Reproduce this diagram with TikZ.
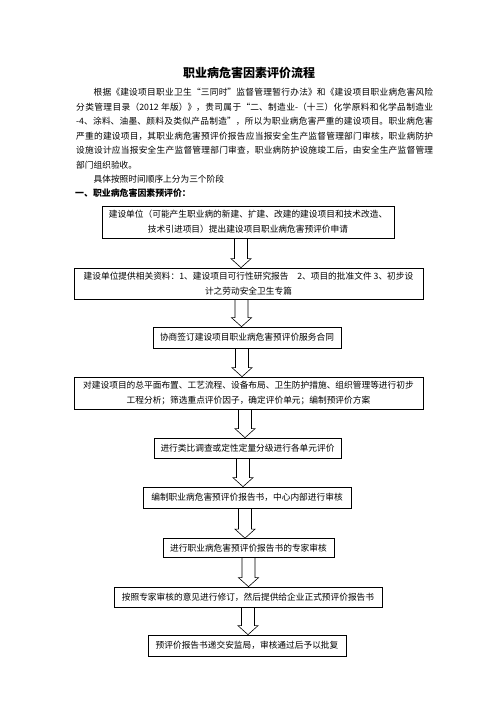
\documentclass[tikz,border=0pt]{standalone}
\usepackage{fontspec}
\setmainfont{Noto Sans CJK SC}
\usetikzlibrary{calc}
\XeTeXlinebreaklocale "zh"
\XeTeXlinebreakskip=0pt plus 1pt

\begin{document}
\begin{tikzpicture}[
            x=1pt, y=-1pt,
            stepbox/.style={
                draw, line width=0.7pt, inner sep=0pt, align=center,
                font=\fontsize{8.7}{15}\selectfont
            },
            hollow arrow/.style={
                line width=0.6pt,
                to path={
                    let \p1=(\tikztostart), \p2=(\tikztotarget) in
                    (\x1-6.5pt, \y1) -- (\x1-6.5pt, \y2+9pt) -- (\x1-10pt, \y2+9pt)
                    -- (\x1, \y2) -- (\x1+10pt, \y2+9pt) -- (\x1+6.5pt, \y2+9pt) -- (\x1+6.5pt, \y1)
                }
            }
        ]
        \useasboundingbox[fill=white] (0, 0) rectangle (496, 702);

        \node (title) at (249, 73) {\fontsize{12}{14}\selectfont\bfseries 职业病危害因素评价流程};
        \node (intro) at (76, 88)[anchor=north west, inner sep=0pt, text width=357pt, align=justify,
            font=\fontsize{8.7}{14.5}\selectfont] {%
            \hspace*{2em}根据《建设项目职业卫生“三同时”监督管理暂行办法》和《建设项目职业病危害风险\linebreak
            分类管理目录（2012 年版）》，贵司属于“二、制造业-（十三）化学原料和化学品制造业\linebreak
            -4、涂料、油墨、颜料及类似产品制造”，所以为职业病危害严重的建设项目。职业病危害\linebreak
            严重的建设项目，其职业病危害预评价报告应当报安全生产监督管理部门审核，职业病防护\linebreak
            设施设计应当报安全生产监督管理部门审查，职业病防护设施竣工后，由安全生产监督管理\linebreak
            部门组织验收。\\
            \hspace*{2em}具体按照时间顺序上分为三个阶段};
        \node (stage) at (75, 193)[anchor=west, inner sep=0pt, font=\fontsize{8.9}{10}\selectfont\bfseries]
            {一、职业病危害因素预评价：};

        \node[stepbox, minimum width=292, minimum height=32] (apply) at (248, 222)
            {建设单位（可能产生职业病的新建、扩建、改建的建设项目和技术改造、\\技术引进项目）提出建设项目职业病危害预评价申请};
        \node[stepbox, minimum width=349, minimum height=31] (docs) at (248.5, 283.5)
            {建设单位提供相关资料：1、建设项目可行性研究报告\quad 2、项目的批准文件 3、初步设\\计之劳动安全卫生专篇};
        \node[stepbox, minimum width=188, minimum height=21] (contract) at (247, 337.5)
            {协商签订建设项目职业病危害预评价服务合同};
        \node[stepbox, minimum width=349, minimum height=32] (analysis) at (248.5, 393)
            {对建设项目的总平面布置、工艺流程、设备布局、卫生防护措施、组织管理等进行初步\\工程分析；筛选重点评价因子，确定评价单元；编制预评价方案};
        \node[stepbox, minimum width=187, minimum height=20] (unit) at (247.5, 448)
            {进行类比调查或定性定量分级进行各单元评价};
        \node[stepbox, minimum width=208, minimum height=21] (report) at (247, 497.5)
            {编制职业病危害预评价报告书，中心内部进行审核};
        \node[stepbox, minimum width=171, minimum height=19] (expert) at (248.5, 548)
            {进行职业病危害预评价报告书的专家审核};
        \node[stepbox, minimum width=268, minimum height=20] (revise) at (248, 597)
            {按照专家审核的意见进行修订，然后提供给企业正式预评价报告书};
        \node[stepbox, minimum width=198, minimum height=21] (approve) at (247, 645.5)
            {预评价报告书递交安监局，审核通过后予以批复};

        \draw[hollow arrow] ([xshift=-7pt]apply.south) to (docs.north);
        \draw[hollow arrow] ([xshift=-7pt]docs.south) to (contract.north);
        \draw[hollow arrow] ([xshift=-5pt]contract.south) to (analysis.north);
        \draw[hollow arrow] ([xshift=-3.5pt]analysis.south) to (unit.north);
        \draw[hollow arrow] ([xshift=-4.5pt]unit.south) to (report.north);
        \draw[hollow arrow] ([xshift=-2pt]report.south) to (expert.north);
        \draw[hollow arrow] (expert.south) to (revise.north);
        \draw[hollow arrow] (revise.south) to (approve.north);
    \end{tikzpicture}
\end{document}
